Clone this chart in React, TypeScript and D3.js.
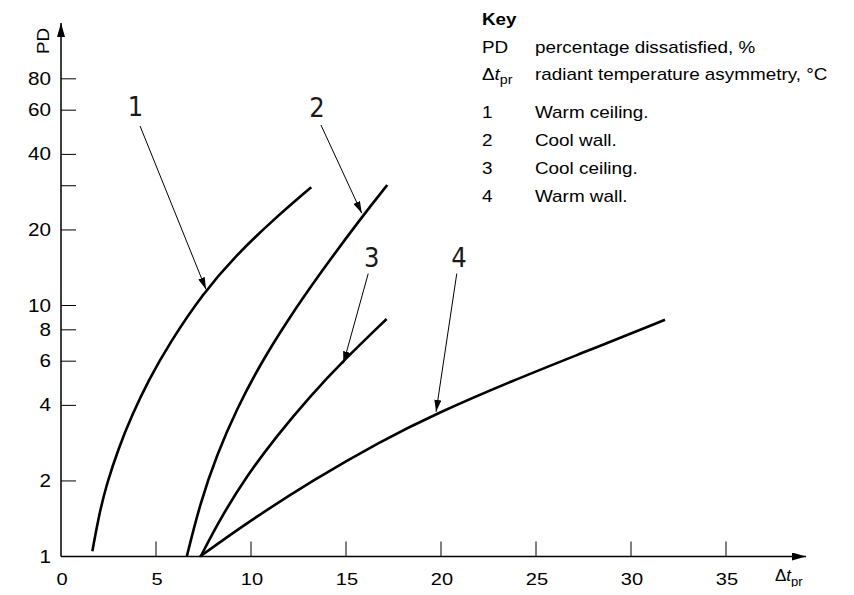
import { useEffect, useRef } from "react";
import * as d3 from "d3";

// axis ticks
const dtTicks = [0, 5, 10, 15, 20, 25, 30, 35];
const pdTicks = [1, 2, 4, 6, 8, 10, 20, 30, 40, 60, 80];
const pdTickLabels = ["1", "2", "4", "6", "8", "10", "20", "", "40", "60", "80"];

// curves: [Δt_pr, PD]
const warmCeiling = [[1.65, 1.05], [2.02, 1.49], [2.41, 1.95], [3.02, 2.69], [3.73, 3.65], [4.6, 5.03], [5.74, 7.13], [7.44, 11.1], [9.2, 15.8], [11.12, 21.8], [13.17, 29.6]];
const coolWall = [[6.62, 1.0], [7.32, 1.63], [8.2, 2.54], [9.25, 3.87], [10.47, 5.8], [11.88, 8.64], [13.68, 13.6], [15.83, 22.5], [17.17, 30.2]];
const coolCeiling = [[7.35, 1.0], [8.37, 1.41], [9.77, 2.09], [11.35, 3.02], [13.1, 4.34], [14.86, 6.03], [17.14, 8.84]];
const warmWall = [[7.32, 1.0], [9.77, 1.36], [13.28, 2.02], [16.79, 2.87], [19.74, 3.71], [23.8, 5.03], [27.32, 6.42], [31.79, 8.77]];
const curves = [warmCeiling, coolWall, coolCeiling, warmWall];

// callouts: label, label pos, arrow tail, arrow tip (data units)
const calloutLabels = ["1", "2", "3", "4"];
const calloutPos = [[3.92, 56.9], [13.47, 56.5], [16.35, 14.3], [20.95, 14.2]];
const calloutTail = [[4.16, 51.9], [13.68, 52.4], [16.17, 13.4], [20.83, 13.4]];
const calloutTip = [[7.63, 11.6], [15.83, 23.3], [14.86, 5.88], [19.74, 3.77]];

// key
const keyCodes = ["1", "2", "3", "4"];
const keyTexts = ["Warm ceiling.", "Cool wall.", "Cool ceiling.", "Warm wall."];

const W = 854, H = 595;
const FONT = "'Liberation Sans', Arial, sans-serif";
const SX = 1.18; // the source text is a bit wide

export default function App() {
    const ref = useRef<SVGSVGElement>(null);

    useEffect(() => {
        const svg = d3.select(ref.current);
        svg.selectAll("*").remove();

        const x = d3.scaleLinear().domain([0, 35]).range([61, 726]);
        const y = d3.scaleLog().domain([1, 100]).range([556.5, 54.5]);
        const x0 = x(0), y0 = y(1);

        const defs = svg.append("defs");
        defs.append("marker").attr("id", "axisHead")
            .attr("viewBox", "0 0 14 8").attr("refX", 14).attr("refY", 4)
            .attr("markerWidth", 14).attr("markerHeight", 8)
            .attr("markerUnits", "userSpaceOnUse").attr("orient", "auto")
            .append("path").attr("d", "M0,0L14,4L0,8Z").attr("fill", "#000");
        defs.append("marker").attr("id", "callHead")
            .attr("viewBox", "0 0 12 7").attr("refX", 12).attr("refY", 3.5)
            .attr("markerWidth", 12).attr("markerHeight", 7)
            .attr("markerUnits", "userSpaceOnUse").attr("orient", "auto")
            .append("path").attr("d", "M0,0L12,3.5L0,7Z").attr("fill", "#000");

        // axes with arrows
        svg.append("line").attr("x1", x0).attr("y1", y0).attr("x2", 806).attr("y2", y0)
            .attr("stroke", "#000").attr("stroke-width", 1.5).attr("marker-end", "url(#axisHead)");
        svg.append("line").attr("x1", x0).attr("y1", y0).attr("x2", x0).attr("y2", 23)
            .attr("stroke", "#000").attr("stroke-width", 1.5).attr("marker-end", "url(#axisHead)");

        // x ticks
        const xt = svg.append("g");
        xt.selectAll("line").data(dtTicks.filter(d => d > 0)).join("line")
            .attr("x1", d => x(d)).attr("x2", d => x(d))
            .attr("y1", y0).attr("y2", y0 - 15)
            .attr("stroke", "#000").attr("stroke-width", 1);
        xt.selectAll("text").data(dtTicks).join("text")
            .attr("transform", d => `translate(${x(d) + 1},585) scale(${SX},1)`)
            .attr("text-anchor", "middle").attr("font-family", FONT).attr("font-size", 17)
            .text(d => d);

        // y ticks
        const yt = svg.append("g");
        yt.selectAll("line").data(pdTicks.filter(d => d > 1)).join("line")
            .attr("x1", x0).attr("x2", x0 + 15)
            .attr("y1", d => y(d)).attr("y2", d => y(d))
            .attr("stroke", "#000").attr("stroke-width", 1);
        yt.selectAll("text").data(pdTicks).join("text")
            .attr("transform", d => `translate(51,${y(d) + 6}) scale(${SX},1)`)
            .attr("text-anchor", "end").attr("font-family", FONT).attr("font-size", 17.5)
            .text((d, i) => pdTickLabels[i]);

        // axis titles
        svg.append("text").attr("transform", `translate(49,41) rotate(-90) scale(${SX},1)`)
            .attr("text-anchor", "middle").attr("font-family", FONT).attr("font-size", 16)
            .text("PD");
        const xl = svg.append("text").attr("x", 775).attr("y", 581)
            .attr("font-family", FONT).attr("font-size", 17);
        xl.append("tspan").text("Δ");
        xl.append("tspan").attr("font-style", "italic").text("t");
        xl.append("tspan").attr("dy", 5).attr("font-size", 13).text("pr");

        // curves
        const line = d3.line<number[]>().x(d => x(d[0])).y(d => y(d[1])).curve(d3.curveBasis);
        svg.append("g").selectAll("path").data(curves).join("path")
            .attr("d", d => line(d))
            .attr("fill", "none").attr("stroke", "#000").attr("stroke-width", 2.6);

        // callouts
        const cg = svg.append("g");
        cg.selectAll("line").data(calloutTail).join("line")
            .attr("x1", d => x(d[0])).attr("y1", d => y(d[1]))
            .attr("x2", (d, i) => x(calloutTip[i][0])).attr("y2", (d, i) => y(calloutTip[i][1]))
            .attr("stroke", "#000").attr("stroke-width", 1).attr("marker-end", "url(#callHead)");
        cg.selectAll("text").data(calloutPos).join("text")
            .attr("x", d => x(d[0])).attr("y", d => y(d[1]))
            .attr("text-anchor", "middle")
            .attr("font-family", "'Liberation Sans Narrow', 'DejaVu Sans Condensed', sans-serif")
            .attr("font-size", 27).attr("font-weight", 300)
            .attr("fill", "#1a1a1a")
            .text((d, i) => calloutLabels[i]);

        // key
        const k = svg.append("g").attr("font-family", FONT).attr("font-size", 16);
        const put = (tx: number, ty: number, s: string) =>
            k.append("text").attr("transform", `translate(${tx},${ty}) scale(${SX},1)`).text(s);
        put(482, 25, "Key").attr("font-weight", "bold");
        put(482, 53, "PD");
        put(535, 53, "percentage dissatisfied, %");
        const kd = put(482, 80, "");
        kd.append("tspan").text("Δ");
        kd.append("tspan").attr("font-style", "italic").text("t");
        kd.append("tspan").attr("dy", 4).attr("font-size", 12).text("pr");
        put(535, 80, "radiant temperature asymmetry, °C");
        keyCodes.forEach((c, i) => put(482, 118 + i * 28, c));
        keyTexts.forEach((t, i) => put(535, 118 + i * 28, t));
    }, []);

    return <svg width={W} height={H} ref={ref} style={{ display: "block", margin: "-8px", background: "#fff" }}></svg>;
}
